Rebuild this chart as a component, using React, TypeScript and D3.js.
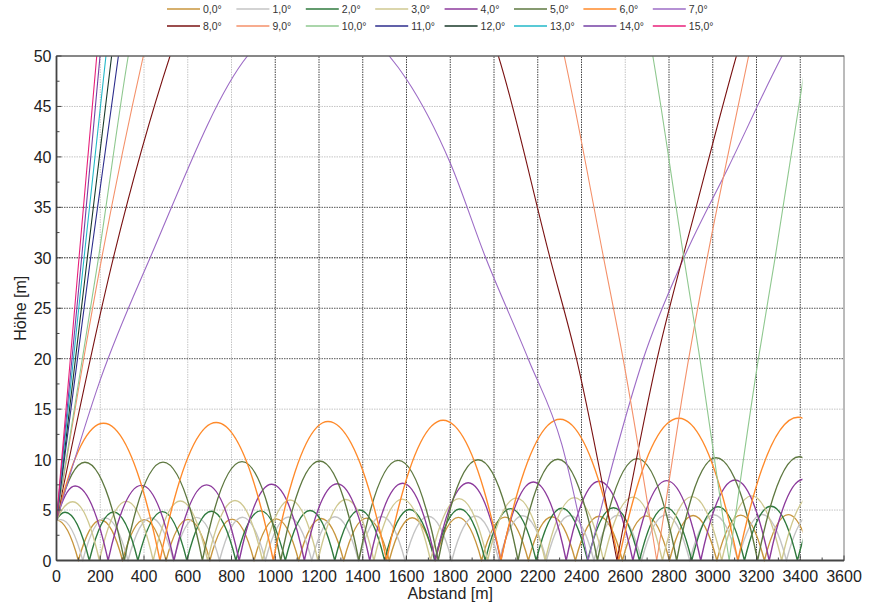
import { useEffect, useRef } from "react"
import * as d3 from "d3"

// legend names (launch angle)
const angleLabels = ["0,0°", "1,0°", "2,0°", "3,0°", "4,0°", "5,0°", "6,0°", "7,0°",
  "8,0°", "9,0°", "10,0°", "11,0°", "12,0°", "13,0°", "14,0°", "15,0°"]

const lineColors = ["#c8963e", "#c4c4c4", "#2f7a3e", "#cfc890", "#8c3a9c", "#5e7840", "#ff8a2a", "#9d6cc6",
  "#7a1212", "#f4916a", "#8fc88f", "#2c2c8c", "#183828", "#22b8c8", "#7440a4", "#e8207a"]

const xTickValues = [0, 200, 400, 600, 800, 1000, 1200, 1400, 1600, 1800, 2000, 2200, 2400, 2600, 2800, 3000, 3200, 3400, 3600]
const yTickValues = [0, 5, 10, 15, 20, 25, 30, 35, 40, 45, 50]
const darkXGrid = [1000, 1200, 1400, 1600, 1800, 2000, 2200, 2400, 2800, 3000, 3200, 3400]
const darkYGrid = [20, 25, 30, 35]

// where every trajectory stops
const traceEnd = 3410

// flat trajectories: start, then apex / ground contact alternating
const trace00 = [[0, 4], [100, 0], [203, 4.02], [302, 0], [402, 4.05], [501, 0], [601, 4.08], [701, 0], [802, 4.1], [903, 0],
  [1005, 4.13], [1107, 0], [1210, 4.16], [1313, 0], [1417, 4.2], [1521, 0], [1626, 4.23], [1731, 0], [1837, 4.27], [1943, 0],
  [2050, 4.3], [2157, 0], [2265, 4.34], [2372, 0], [2480, 4.38], [2587, 0], [2695, 4.42], [2802, 0], [2910, 4.46], [3019, 0],
  [3128, 4.5], [3236, 0], [3345, 4.55], [3455, 0]]
const trace01 = [[0, 4], [20, 4.05], [120, 0], [223, 4.22], [327, 0], [431, 4.24], [535, 0], [640, 4.27], [745, 0], [850, 4.29],
  [955, 0], [1061, 4.31], [1167, 0], [1273, 4.33], [1380, 0], [1486, 4.36], [1593, 0], [1700, 4.38], [1807, 0], [1915, 4.41],
  [2023, 0], [2131, 4.43], [2240, 0], [2348, 4.46], [2457, 0], [2566, 4.48], [2675, 0], [2785, 4.51], [2895, 0], [3005, 4.53],
  [3115, 0], [3226, 4.56], [3337, 0], [3448, 4.58]]
const trace02 = [[0, 4], [39, 4.78], [150, 0], [261, 4.8], [372, 0], [484, 4.84], [596, 0], [708, 4.88], [820, 0], [933, 4.92],
  [1046, 0], [1159, 4.96], [1272, 0], [1386, 5.0], [1500, 0], [1614, 5.05], [1729, 0], [1844, 5.1], [1960, 0], [2076, 5.14],
  [2193, 0], [2310, 5.18], [2428, 0], [2546, 5.23], [2665, 0], [2784, 5.27], [2904, 0], [3024, 5.32], [3145, 0], [3266, 5.38],
  [3387, 0], [3510, 5.42]]
const trace03 = [[0, 4], [74, 5.83], [196, 0], [319, 5.86], [442, 0], [566, 5.9], [691, 0], [816, 5.95], [942, 0], [1068, 6.0],
  [1195, 0], [1323, 6.04], [1451, 0], [1580, 6.08], [1710, 0], [1840, 6.13], [1971, 0], [2102, 6.18], [2234, 0], [2367, 6.23],
  [2501, 0], [2635, 6.28], [2770, 0], [2905, 6.33], [3041, 0], [3178, 6.4], [3315, 0], [3452, 6.45]]
const trace04 = [[0, 4], [85, 7.38], [236, 0], [388, 7.45], [537, 0], [686, 7.5], [835, 0], [984, 7.55], [1133, 0], [1283, 7.6],
  [1432, 0], [1582, 7.65], [1732, 0], [1882, 7.7], [2031, 0], [2180, 7.78], [2330, 0], [2480, 7.85], [2635, 0], [2789, 7.92],
  [2945, 0], [3102, 7.98], [3258, 0], [3415, 8.05], [3570, 0]]
const trace05 = [[0, 4], [130, 9.73], [310, 0], [487, 9.75], [667, 0], [848, 9.8], [1025, 0], [1203, 9.86], [1382, 0], [1562, 9.92],
  [1745, 0], [1927, 9.98], [2110, 0], [2292, 10.04], [2473, 0], [2655, 10.1], [2835, 0], [3015, 10.18], [3205, 0], [3395, 10.28], [3585, 0]]
const trace06 = [[0, 4], [215, 13.6], [473, 0], [730, 13.68], [991, 0], [1241, 13.78], [1509, 0], [1767, 13.9], [2032, 0],
  [2302, 14.0], [2570, 0], [2845, 14.1], [3115, 0], [3390, 14.2], [3665, 0]]

// steep trajectories: read points per flight, leaving the top of the chart
const trace07 = [
  [[0, 4], [200, 17.9], [428, 30], [873, 50], [1200, 54.5], [1521, 50], [1600, 47.7], [1800, 39.4], [1962, 30], [2158, 19.9], [2310, 11.5], [2430, 0]],
  [[2430, 0], [2560, 11], [2681, 19.9], [2868, 30], [3072, 39], [3317, 50], [3500, 57]]]
const trace08 = [
  [[0, 4], [260, 30], [519, 50], [1270, 76], [2020, 50], [2256, 30], [2378, 19.9], [2562, 0]],
  [[2562, 0], [2745, 19.9], [2925, 35.1], [3108, 50], [3400, 70]]]
const trace09 = [
  [[0, 4], [207, 30], [397, 50], [1360, 98], [2321, 50], [2501, 30], [2591, 19.9], [2744, 0]],
  [[2744, 0], [2858, 15.9], [3164, 50], [3450, 78]]]
const trace10 = [
  [[0, 4], [192, 30], [328, 50], [1527, 127], [2726, 50], [2868, 30], [2942, 19.9], [3075, 0]],
  [[3075, 0], [3208, 19.9], [3285, 30], [3410, 47.3], [3600, 70]]]
const trace11 = [[[0, 4], [156, 30], [283, 50], [1900, 171]]]
const trace12 = [[[0, 4], [141, 30], [252, 50], [2050, 203]]]
const trace13 = [[[0, 4], [126, 30], [226, 50], [2200, 240]]]
const trace14 = [[[0, 4], [115, 30], [199, 50], [2350, 288]]]
const trace15 = [[[0, 4], [103, 30], [184, 50], [2500, 328]]]

const bounceTraces = [trace00, trace01, trace02, trace03, trace04, trace05, trace06]
const steepTraces = [trace07, trace08, trace09, trace10, trace11, trace12, trace13, trace14, trace15]

const App = () => {
  const ref = useRef(null)
  const width = 874
  const height = 602
  const margin = { top: 56, right: 30, bottom: 41.5, left: 56.5 }

  useEffect(() => {
    const svg = d3.select(ref.current)
    svg.selectAll("*").remove()

    const xScale = d3.scaleLinear().domain([0, 3600]).range([margin.left, width - margin.right])
    const yScale = d3.scaleLinear().domain([0, 50]).range([height - margin.bottom, margin.top])

    svg.append("rect").attr("width", width).attr("height", height).attr("fill", "#fff")

    // grid
    const grid = svg.append("g")
    grid.selectAll(".vgrid")
      .data(xTickValues.filter(d => d > 0 && d < 3600))
      .join("line")
      .attr("x1", d => xScale(d)).attr("x2", d => xScale(d))
      .attr("y1", yScale(0)).attr("y2", yScale(50))
      .attr("stroke", d => darkXGrid.includes(d) ? "#444" : "#c4c4c4")
      .attr("stroke-width", 1)
      .attr("stroke-dasharray", "1.5,1")
    grid.selectAll(".hgrid")
      .data(yTickValues.filter(d => d > 0 && d < 50))
      .join("line")
      .attr("x1", xScale(0)).attr("x2", xScale(3600))
      .attr("y1", d => yScale(d)).attr("y2", d => yScale(d))
      .attr("stroke", d => darkYGrid.includes(d) ? (d === 30 ? "#222" : "#555") : "#c4c4c4")
      .attr("stroke-width", 1)
      .attr("stroke-dasharray", "1.5,1")

    // clip to plot area and trajectory end
    svg.append("clipPath").attr("id", "plotclip")
      .append("rect")
      .attr("x", xScale(0))
      .attr("y", yScale(50))
      .attr("width", xScale(traceEnd) - xScale(0))
      .attr("height", yScale(0) - yScale(50) + 1)

    // parabolic arcs between apex and ground contact
    const bouncePath = (pts) => {
      const p = d3.path()
      p.moveTo(xScale(pts[0][0]), yScale(pts[0][1]))
      for (let i = 1; i < pts.length; i++) {
        const [x0, y0] = pts[i - 1]
        const [x1, y1] = pts[i]
        const cx = (x0 + x1) / 2
        const cy = y1 > y0 ? y1 : y0
        p.quadraticCurveTo(xScale(cx), yScale(cy), xScale(x1), yScale(y1))
      }
      return p.toString()
    }
    const flightLine = d3.line()
      .x(d => xScale(d[0]))
      .y(d => yScale(d[1]))
      .curve(d3.curveMonotoneX)

    const plot = svg.append("g").attr("clip-path", "url(#plotclip)")
    plot.selectAll(".bounce")
      .data(bounceTraces)
      .join("path")
      .attr("d", d => bouncePath(d))
      .attr("fill", "none")
      .attr("stroke", (d, i) => lineColors[i])
      .attr("stroke-width", 1.4)
    plot.selectAll(".steep")
      .data(steepTraces)
      .join("path")
      .attr("d", d => d.map(seg => flightLine(seg)).join(""))
      .attr("fill", "none")
      .attr("stroke", (d, i) => lineColors[i + 7])
      .attr("stroke-width", 1.1)

    // frame
    svg.append("rect")
      .attr("x", xScale(0)).attr("y", yScale(50))
      .attr("width", xScale(3600) - xScale(0)).attr("height", yScale(0) - yScale(50))
      .attr("fill", "none").attr("stroke", "#777").attr("stroke-width", 1)
    svg.append("line")
      .attr("x1", xScale(0)).attr("x2", xScale(3600))
      .attr("y1", yScale(50)).attr("y2", yScale(50))
      .attr("stroke", "#555").attr("stroke-width", 1.2)
    svg.append("line")
      .attr("x1", xScale(0)).attr("x2", xScale(3600))
      .attr("y1", yScale(0)).attr("y2", yScale(0))
      .attr("stroke", "#444").attr("stroke-width", 1.8)
    svg.append("line")
      .attr("x1", xScale(0)).attr("x2", xScale(0))
      .attr("y1", yScale(0)).attr("y2", yScale(50))
      .attr("stroke", "#444").attr("stroke-width", 1.8)

    // ticks (inward)
    const minorX = d3.range(100, 3600, 200)
    const minorY = d3.range(2.5, 50, 5)
    svg.append("g").selectAll("line").data(xTickValues).join("line")
      .attr("x1", d => xScale(d)).attr("x2", d => xScale(d))
      .attr("y1", yScale(0)).attr("y2", yScale(0) - 5)
      .attr("stroke", "#444")
    svg.append("g").selectAll("line").data(minorX).join("line")
      .attr("x1", d => xScale(d)).attr("x2", d => xScale(d))
      .attr("y1", yScale(0)).attr("y2", yScale(0) - 3)
      .attr("stroke", "#444")
    svg.append("g").selectAll("line").data(yTickValues).join("line")
      .attr("x1", xScale(0)).attr("x2", xScale(0) + 5)
      .attr("y1", d => yScale(d)).attr("y2", d => yScale(d))
      .attr("stroke", "#444")
    svg.append("g").selectAll("line").data(minorY).join("line")
      .attr("x1", xScale(0)).attr("x2", xScale(0) + 3)
      .attr("y1", d => yScale(d)).attr("y2", d => yScale(d))
      .attr("stroke", "#444")

    const font = "Liberation Sans, Arial, sans-serif"
    svg.append("g").selectAll("text").data(xTickValues).join("text")
      .attr("x", d => xScale(d)).attr("y", yScale(0) + 21)
      .attr("text-anchor", "middle")
      .attr("font-family", font).attr("font-size", 16).attr("fill", "#222")
      .text(d => d)
    svg.append("g").selectAll("text").data(yTickValues).join("text")
      .attr("x", xScale(0) - 5).attr("y", d => yScale(d) + 6)
      .attr("text-anchor", "end")
      .attr("font-family", font).attr("font-size", 16).attr("fill", "#222")
      .text(d => d)

    svg.append("text")
      .attr("x", (xScale(0) + xScale(3600)) / 2).attr("y", 599)
      .attr("text-anchor", "middle")
      .attr("font-family", font).attr("font-size", 16).attr("fill", "#222")
      .text("Abstand [m]")
    svg.append("text")
      .attr("transform", `translate(26,${(yScale(0) + yScale(50)) / 2}) rotate(-90)`)
      .attr("text-anchor", "middle")
      .attr("font-family", font).attr("font-size", 16).attr("fill", "#222")
      .text("Höhe [m]")

    // legend, two rows of eight
    const legend = svg.append("g").selectAll("g").data(angleLabels).join("g")
      .attr("transform", (d, i) => `translate(${167 + (i % 8) * 69.4},${i < 8 ? 9 : 26})`)
    legend.append("line")
      .attr("x1", 0).attr("x2", 33).attr("y1", 0).attr("y2", 0)
      .attr("stroke", (d, i) => lineColors[i]).attr("stroke-width", 1.4)
    legend.append("text")
      .attr("x", 36).attr("y", 4)
      .attr("font-family", font).attr("font-size", 10.5).attr("fill", "#333")
      .text(d => d)
  }, [])

  return (
    <svg ref={ref} width={width} height={height}
      style={{ position: "absolute", left: 0, top: 0, display: "block" }} />
  )
}

export default App
